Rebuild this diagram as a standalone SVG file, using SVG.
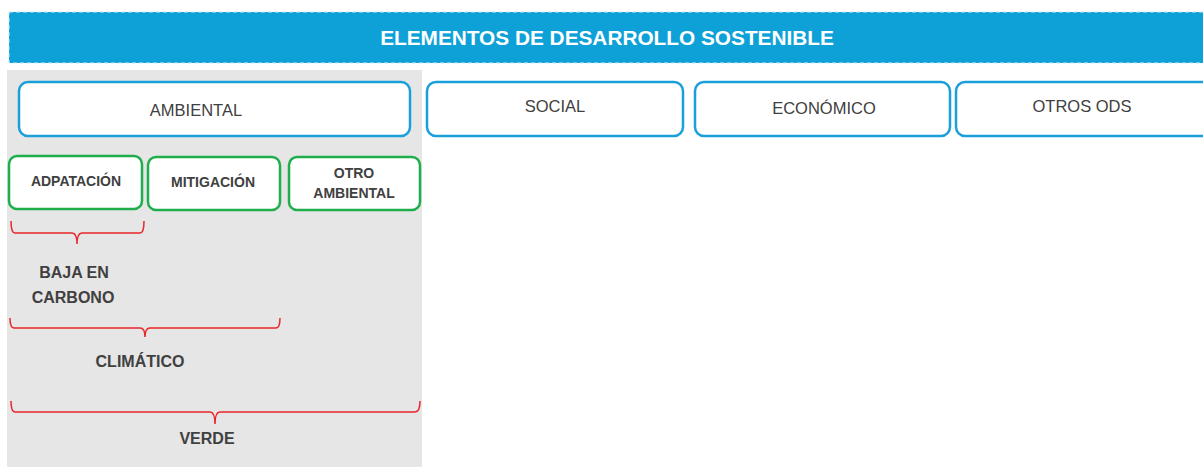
<svg xmlns="http://www.w3.org/2000/svg" width="1203" height="467" viewBox="0 0 1203 467">
<style>
.blue{fill:#fff;stroke:#1A9FDB;stroke-width:2.5}
.green{fill:#fff;stroke:#1FAE4B;stroke-width:2.5}
.t{font-family:"Liberation Sans",Arial,sans-serif;font-size:16.5px;fill:#404040;text-anchor:middle}
.b{font-family:"Liberation Sans",Arial,sans-serif;font-size:14px;font-weight:bold;fill:#404040;text-anchor:middle}
.bb{font-family:"Liberation Sans",Arial,sans-serif;font-size:16px;font-weight:bold;fill:#404040;text-anchor:middle}
.brace{fill:none;stroke:#E8262A;stroke-width:1.5}
</style>
<rect width="1203" height="467" fill="#fff"/>
<g id="title">
<rect x="9" y="12" width="1200" height="51" fill="#0EA1D8" stroke="#cfeaf7" stroke-width="1" stroke-dasharray="4 3"/>
<text x="607" y="45" font-family="Liberation Sans,Arial,sans-serif" font-size="20.8" font-weight="bold" fill="#fff" text-anchor="middle">ELEMENTOS DE DESARROLLO SOSTENIBLE</text>
</g>
<rect id="panel" x="7" y="70" width="415" height="397" fill="#E6E6E6"/>
<g id="ambiental"><rect class="blue" x="19" y="82" width="391" height="54" rx="9"/><text class="t" x="196" y="116">AMBIENTAL</text></g>
<g id="social"><rect class="blue" x="427" y="82" width="256" height="54" rx="9"/><text class="t" x="555" y="112">SOCIAL</text></g>
<g id="economico"><rect class="blue" x="695" y="82" width="255" height="54" rx="9"/><text class="t" x="824" y="114">ECONÓMICO</text></g>
<g id="otros-ods"><rect class="blue" x="956" y="82" width="260" height="54" rx="9"/><text class="t" x="1082" y="112">OTROS ODS</text></g>
<g id="adaptacion"><rect class="green" x="9" y="156" width="133" height="53" rx="8"/><text class="b" x="76" y="186">ADPATACIÓN</text></g>
<g id="mitigacion"><rect class="green" x="148" y="157" width="132" height="53" rx="8"/><text class="b" x="213" y="187">MITIGACIÓN</text></g>
<g id="otro-ambiental"><rect class="green" x="289" y="157" width="131" height="53" rx="8"/><text class="b" x="354" y="178">OTRO</text><text class="b" x="354" y="198">AMBIENTAL</text></g>
<g id="connectors">
<path class="brace" d="M11,221 Q11,233 15,233 L72,233 Q77,233 77,244 Q77,233 82,233 L140,233 Q144,233 144,221"/>
<path class="brace" d="M10,318 Q10,328 14,328 L140,328 Q145,328 145,337 Q145,328 150,328 L276,328 Q280,328 280,318"/>
<path class="brace" d="M11,401 Q11,412 15,412 L210,412 Q215,412 215,424 Q215,412 220,412 L415,412 Q420,412 420,401"/>
</g>
<g id="baja"><text class="bb" x="74" y="278">BAJA EN</text><text class="bb" x="73" y="303">CARBONO</text></g>
<g id="climatico"><text class="bb" x="140" y="367">CLIMÁTICO</text></g>
<g id="verde"><text class="bb" x="207" y="444">VERDE</text></g>
</svg>
